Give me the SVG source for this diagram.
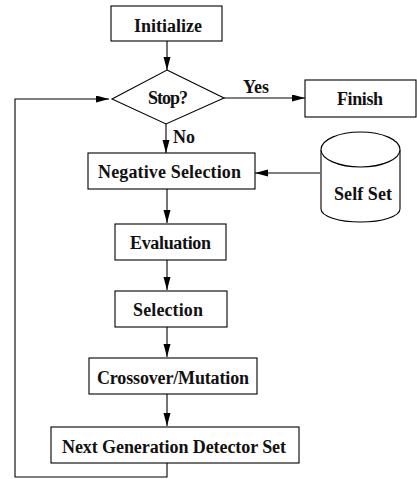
<svg xmlns="http://www.w3.org/2000/svg" width="417" height="479" viewBox="0 0 417 479">
<style>
.box{fill:#fff;stroke:#000;stroke-width:1.1}
.lbl{font-family:"Liberation Serif","Times New Roman",serif;font-weight:bold;font-size:18px;fill:#111}
.conn{fill:none;stroke:#000;stroke-width:1.1}
</style>
<defs>
<marker id="arr" markerUnits="userSpaceOnUse" markerWidth="14" markerHeight="8" refX="13" refY="3.5" orient="auto">
<path d="M0,0 L13,3.5 L0,7 Z" fill="#000"/>
</marker>
</defs>
<rect width="417" height="479" fill="#fff"/>
<g id="connectors">
<path class="conn" d="M167,41 V70" marker-end="url(#arr)"/>
<path class="conn" d="M224,98 H305" marker-end="url(#arr)"/>
<path class="conn" d="M167,463 V477 H15 V99 H109" marker-end="url(#arr)"/>
<path class="conn" d="M166,124 V153" marker-end="url(#arr)"/>
<path class="conn" d="M320,173 H255" marker-end="url(#arr)"/>
<path class="conn" d="M167,189 V223" marker-end="url(#arr)"/>
<path class="conn" d="M167,260 V290" marker-end="url(#arr)"/>
<path class="conn" d="M167,327 V357" marker-end="url(#arr)"/>
<path class="conn" d="M167,394 V426" marker-end="url(#arr)"/>
<text class="lbl" x="243" y="93" textLength="26">Yes</text>
<text class="lbl" x="173" y="143">No</text>
</g>
<g id="initialize">
<rect class="box" x="111" y="6" width="111" height="35"/>
<text class="lbl" x="134" y="32" textLength="68">Initialize</text>
</g>
<g id="stop">
<polygon class="box" points="167,70 224,98 166,124 112,99"/>
<text class="lbl" x="148" y="104" textLength="40">Stop?</text>
</g>
<g id="finish">
<rect class="box" x="305" y="80" width="111" height="37"/>
<text class="lbl" x="337" y="105" textLength="46">Finish</text>
</g>
<g id="negative-selection">
<rect class="box" x="88" y="153" width="167" height="36"/>
<text class="lbl" x="98" y="178" textLength="143">Negative Selection</text>
</g>
<g id="self-set">
<path class="box" d="M321,150 V209 A39.5,13 0 0 0 400,209 V150"/>
<ellipse class="box" cx="360.5" cy="149.5" rx="39.5" ry="17.5"/>
<text class="lbl" x="334" y="200" textLength="58">Self Set</text>
</g>
<g id="evaluation">
<rect class="box" x="115" y="224" width="111" height="36"/>
<text class="lbl" x="130" y="249" textLength="81">Evaluation</text>
</g>
<g id="selection">
<rect class="box" x="115" y="291" width="112" height="36"/>
<text class="lbl" x="133" y="316" textLength="70">Selection</text>
</g>
<g id="crossover-mutation">
<rect class="box" x="89" y="358" width="168" height="36"/>
<text class="lbl" x="97" y="384" textLength="152">Crossover/Mutation</text>
</g>
<g id="next-generation">
<rect class="box" x="51" y="427" width="248" height="36"/>
<text class="lbl" x="62" y="453" textLength="224">Next Generation Detector Set</text>
</g>
</svg>
